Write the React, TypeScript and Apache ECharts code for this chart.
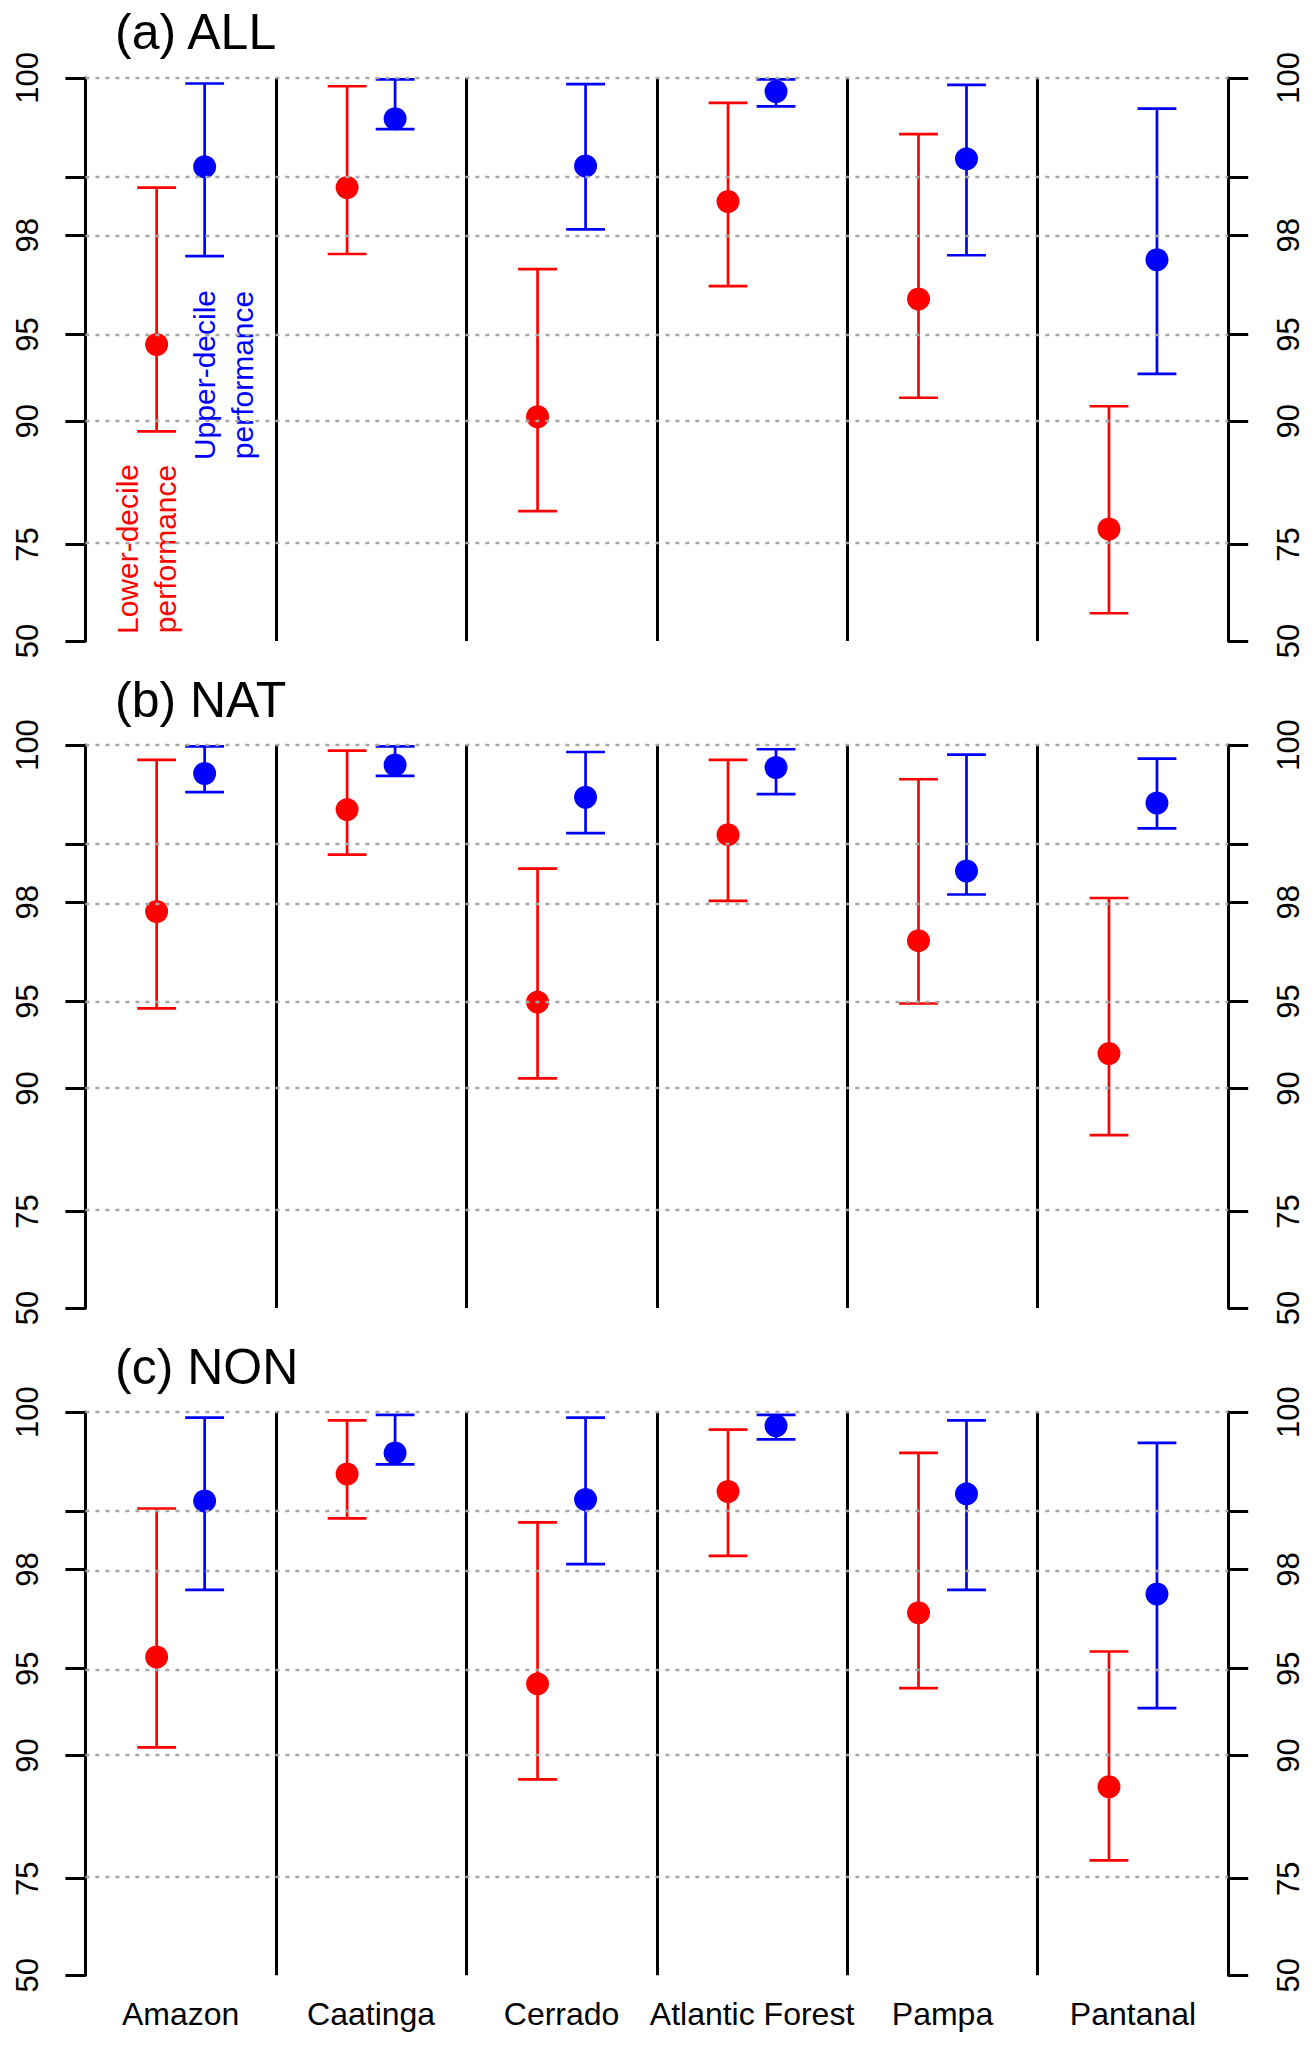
import React, { useEffect, useRef } from 'react';
import * as echarts from 'echarts';

const biomes = ['Amazon', 'Caatinga', 'Cerrado', 'Atlantic Forest', 'Pampa', 'Pantanal'];
const panelTitles = ['(a) ALL', '(b) NAT', '(c) NON'];
const tickValues = [100, 99, 98, 95, 90, 75, 50];
const labelValues = [100, 98, 95, 90, 75, 50];

// [low, mid, high] per biome, in %
const allLower = [[89.2, 94.57, 98.85], [97.58, 98.85, 99.94], [80.4, 90.35, 97.2], [96.72, 98.63, 99.81], [91.67, 96.32, 99.52], [58.98, 77.66, 91.1]];
const allUpper = [[97.53, 99.14, 99.96], [99.57, 99.67, 99.99], [98.12, 99.15, 99.955], [99.78, 99.9, 99.99], [97.55, 99.24, 99.95], [93.1, 97.44, 99.76]];
const natLower = [[94.71, 97.8, 99.89], [98.85, 99.43, 99.96], [90.75, 94.98, 98.63], [98.03, 99.13, 99.89], [94.92, 97.08, 99.73], [85.76, 92.38, 98.09]];
const natUpper = [[99.61, 99.78, 99.99], [99.76, 99.85, 99.99], [99.15, 99.56, 99.95], [99.59, 99.83, 99.97], [98.16, 98.59, 99.93], [99.21, 99.5, 99.9]];
const nonLower = [[90.61, 95.47, 99.04], [98.9, 99.46, 99.94], [88.0, 94.33, 98.84], [98.27, 99.26, 99.87], [94.13, 96.94, 99.67], [78.12, 87.32, 95.68]];
const nonUpper = [[97.54, 99.14, 99.96], [99.56, 99.67, 99.98], [98.11, 99.16, 99.96], [99.79, 99.9, 99.98], [97.54, 99.23, 99.94], [93.1, 97.44, 99.76]];

const panels = [
  { lower: allLower, upper: allUpper },
  { lower: natLower, upper: natUpper },
  { lower: nonLower, upper: nonUpper },
];

const FONT = '"Liberation Sans", Arial, Helvetica, sans-serif';
const RED = '#FF0000';
const BLUE = '#0000FF';

// axis scale: log10(101 - x), drawn inverted
const tr = (v: number) => Math.log10(101 - v);
const untr = (t: number) => Math.round(101 - Math.pow(10, t));
const T_MAX = tr(50);

const GRID_TOPS = [77.9, 745.0, 1412.1];
const GRID_H = 563.1;
const GRID_LEFT = 85.4;
const GRID_RIGHT = 86.8;

const makeRender = (offset: number, color: string) => (params: any, api: any) => {
  const idx = api.value(0);
  const lo = api.coord([idx, api.value(1)]);
  const mid = api.coord([idx, api.value(2)]);
  const hi = api.coord([idx, api.value(3)]);
  const bw = api.size([1, 0])[0];
  const x = lo[0] + offset * bw;
  const cap = 0.102 * bw;
  const style = { stroke: color, lineWidth: 2.7 };
  return {
    type: 'group',
    children: [
      { type: 'line', shape: { x1: x, y1: hi[1], x2: x, y2: lo[1] }, style },
      { type: 'line', shape: { x1: x - cap, y1: hi[1], x2: x + cap, y2: hi[1] }, style },
      { type: 'line', shape: { x1: x - cap, y1: lo[1], x2: x + cap, y2: lo[1] }, style },
      { type: 'circle', shape: { cx: x, cy: mid[1], r: 11.5 }, style: { fill: color } },
    ],
  };
};

const App: React.FC = () => {
  const chartRef = useRef<HTMLDivElement>(null);

  useEffect(() => {
    document.body.style.margin = '0';
    if (!chartRef.current) return;
    const chart = echarts.init(chartRef.current, null, { renderer: 'svg' });

    const grids = GRID_TOPS.map(top => ({
      left: GRID_LEFT,
      right: GRID_RIGHT,
      top,
      height: GRID_H,
      containLabel: false,
      outerBoundsMode: 'none',
    }));

    const xAxes = GRID_TOPS.map((_, p) => ({
      gridIndex: p,
      type: 'category',
      data: biomes,
      boundaryGap: true,
      axisLine: { show: false, onZero: false },
      axisTick: { show: false },
      axisLabel: {
        show: p === 2,
        interval: 0,
        fontSize: 32,
        fontFamily: FONT,
        color: '#000',
        margin: 23,
      },
      splitLine: { show: true, interval: 0, lineStyle: { color: '#000', width: 3 } },
    }));

    const yAxes: any[] = [];
    GRID_TOPS.forEach((_, p) => {
      ['left', 'right'].forEach(pos => {
        yAxes.push({
          gridIndex: p,
          type: 'value',
          position: pos,
          inverse: true,
          min: 0,
          max: T_MAX,
          axisLine: { show: true, onZero: false, lineStyle: { color: '#000', width: 3 } },
          axisTick: {
            show: true,
            length: 20,
            customValues: tickValues.map(tr),
            lineStyle: { color: '#000', width: 3 },
          },
          axisLabel: {
            customValues: labelValues.map(tr),
            rotate: 90,
            fontSize: 31,
            fontFamily: FONT,
            color: '#000',
            margin: pos === 'left' ? 42 : 45,
            formatter: (v: number) => String(untr(v)),
          },
          splitLine: { show: false },
        });
      });
    });

    const series: any[] = [];
    panels.forEach((panel, p) => {
      series.push({
        type: 'line',
        xAxisIndex: p,
        yAxisIndex: 2 * p,
        data: [],
        z: 1,
        silent: true,
        markLine: {
          silent: true,
          symbol: ['none', 'none'],
          label: { show: false },
          emphasis: { disabled: true },
          lineStyle: { type: [4, 6], color: '#A6A6A6', width: 2.3 },
          data: tickValues.map(v => ({ yAxis: tr(v) })),
        },
      });
      series.push({
        type: 'custom',
        name: 'Lower-decile',
        xAxisIndex: p,
        yAxisIndex: 2 * p,
        z: 3,
        renderItem: makeRender(-0.126, RED),
        data: panel.lower.map((d, i) => [i, tr(d[0]), tr(d[1]), tr(d[2])]),
      });
      series.push({
        type: 'custom',
        name: 'Upper-decile',
        xAxisIndex: p,
        yAxisIndex: 2 * p,
        z: 3,
        renderItem: makeRender(0.126, BLUE),
        data: panel.upper.map((d, i) => [i, tr(d[0]), tr(d[1]), tr(d[2])]),
      });
    });

    const titleText = panelTitles.map((t, p) => ({
      type: 'text',
      x: 115,
      y: GRID_TOPS[p] - 45.5,
      style: {
        text: t,
        fontSize: 50,
        fontFamily: FONT,
        fill: '#000',
        align: 'left',
        verticalAlign: 'middle',
      },
    }));

    chart.setOption({
      animation: false,
      backgroundColor: '#FFFFFF',
      textStyle: { fontFamily: FONT },
      grid: grids,
      xAxis: xAxes,
      yAxis: yAxes,
      series,
      graphic: [
        ...titleText,
        {
          type: 'text',
          x: 146.5,
          y: 549,
          rotation: Math.PI / 2,
          style: {
            text: 'Lower-decile\nperformance',
            fontSize: 30,
            lineHeight: 38,
            fontFamily: FONT,
            fill: RED,
            align: 'center',
            verticalAlign: 'middle',
          },
        },
        {
          type: 'text',
          x: 223,
          y: 375,
          rotation: Math.PI / 2,
          style: {
            text: 'Upper-decile\nperformance',
            fontSize: 30,
            lineHeight: 38,
            fontFamily: FONT,
            fill: BLUE,
            align: 'center',
            verticalAlign: 'middle',
          },
        },
      ],
    });

    return () => {
      chart.dispose();
    };
  }, []);

  return <div ref={chartRef} style={{ width: '1315px', height: '2046px' }} />;
};

export default App;
